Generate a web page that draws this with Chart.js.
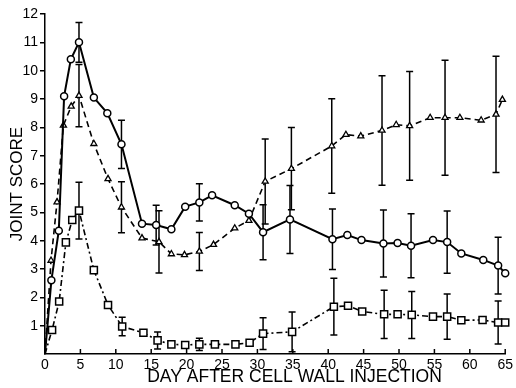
<!DOCTYPE html>
<html>
<head>
<meta charset="utf-8">
<script src="https://cdn.jsdelivr.net/npm/chart.js@4/dist/chart.umd.min.js"></script>
<style>
  html, body { margin: 0; padding: 0; background: #fff; }
  #wrap { width: 516px; height: 388px; }
</style>
</head>
<body>
<div id="wrap"><canvas id="joint"></canvas></div>
<script>
// circles, solid line
let circleDays = [0, 0.9, 1.95, 2.7, 3.65, 4.8, 6.9, 8.8, 10.8, 13.7, 15.7, 17.85, 19.8, 21.8, 23.6, 26.8, 28.8, 30.8, 34.6, 40.6, 42.7, 44.7, 47.8, 49.8, 51.7, 54.8, 56.8, 58.8, 61.9, 64, 65];
let circleScores = [0, 2.6, 4.35, 9.1, 10.4, 11.0, 9.05, 8.5, 7.4, 4.6, 4.55, 4.4, 5.2, 5.35, 5.6, 5.25, 4.95, 4.3, 4.75, 4.05, 4.2, 4.02, 3.9, 3.92, 3.82, 4.02, 3.95, 3.55, 3.32, 3.12, 2.85];
let circleErr = [0, 0, 0, 0, 0, 0.7, 0, 0, 0.85, 0, 0.7, 0, 0, 0.66, 0, 0, 0, 0.97, 1.2, 1.07, 0, 0, 1.18, 0, 1.13, 0, 1.1, 0, 0, 1.0, 0];

// triangles, dashed line
let triangleDays = [0, 0.85, 1.7, 2.6, 3.7, 4.8, 6.9, 8.9, 10.8, 13.7, 16.1, 17.85, 19.7, 21.8, 23.8, 26.8, 28.8, 31.1, 34.8, 40.5, 42.5, 44.6, 47.6, 49.6, 51.5, 54.4, 56.5, 58.6, 61.6, 63.7, 64.6];
let triangleScores = [0, 3.3, 5.36, 8.07, 8.74, 9.12, 7.42, 6.18, 5.18, 4.09, 3.96, 3.53, 3.5, 3.62, 3.86, 4.44, 4.71, 6.09, 6.54, 7.34, 7.74, 7.69, 7.89, 8.09, 8.05, 8.34, 8.34, 8.34, 8.25, 8.46, 8.98];
let triangleErr = [0, 0, 0, 0, 0, 1.1, 0, 0, 0.9, 0, 1.1, 0, 0, 0.67, 0, 0, 0, 1.5, 1.45, 1.67, 0, 0, 1.93, 0, 1.92, 0, 2.03, 0, 0, 2.05, 0];

// squares, dash-dot line
let squareDays = [0, 1.0, 2.0, 2.95, 3.85, 4.8, 6.9, 8.9, 10.9, 13.9, 15.9, 17.85, 19.8, 21.8, 24, 26.9, 28.9, 30.8, 34.9, 40.8, 42.8, 44.8, 47.9, 49.8, 51.8, 54.8, 56.8, 58.8, 61.8, 64, 65];
let squareScores = [0, 0.85, 1.85, 3.94, 4.73, 5.06, 2.96, 1.73, 0.97, 0.75, 0.48, 0.34, 0.32, 0.34, 0.34, 0.34, 0.4, 0.72, 0.78, 1.67, 1.7, 1.5, 1.4, 1.4, 1.38, 1.32, 1.32, 1.19, 1.2, 1.11, 1.11];
let squareErr = [0, 0, 0, 0, 0, 1.0, 0, 0, 0.33, 0, 0.3, 0, 0, 0.22, 0, 0, 0, 0.56, 0.7, 1.0, 0, 0, 0.85, 0, 0.83, 0, 0.8, 0, 0, 0.76, 0];

let xTicks = [0, 5, 10, 15, 20, 25, 30, 35, 40, 45, 50, 55, 60, 65];
let yTicks = [1, 2, 3, 4, 5, 6, 7, 8, 9, 10, 11, 12];

function points(days, scores) {
    return days.map((d, i) => ({ x: d, y: scores[i] }));
}

// vertical error bars, drawn under the markers through the chart's own scales
let errorBars = {
    id: 'errorBars',
    beforeDatasetsDraw(chart) {
        let ctx = chart.ctx;
        let yScale = chart.scales.y;
        ctx.save();
        ctx.strokeStyle = '#000';
        ctx.lineWidth = 1.5;
        chart.data.datasets.forEach((ds, di) => {
            let meta = chart.getDatasetMeta(di);
            ds.errors.forEach((e, i) => {
                if (!e) return;
                let pt = meta.data[i];
                let v = ds.data[i].y;
                let top = yScale.getPixelForValue(v + e);
                let bot = yScale.getPixelForValue(Math.max(v - e, 0));
                ctx.beginPath();
                ctx.moveTo(pt.x, top);
                ctx.lineTo(pt.x, bot);
                ctx.moveTo(pt.x - 3.5, top);
                ctx.lineTo(pt.x + 3.5, top);
                ctx.moveTo(pt.x - 3.5, bot);
                ctx.lineTo(pt.x + 3.5, bot);
                ctx.stroke();
            });
        });
        ctx.restore();
    }
};

// x ticks point up into the plot
let innerTicks = {
    id: 'innerTicks',
    afterDraw(chart) {
        let ctx = chart.ctx;
        let xScale = chart.scales.x;
        let base = chart.chartArea.bottom;
        ctx.save();
        ctx.strokeStyle = '#000';
        ctx.lineWidth = 1.5;
        xTicks.forEach(t => {
            let px = xScale.getPixelForValue(t);
            ctx.beginPath();
            ctx.moveTo(px, base);
            ctx.lineTo(px, base - 5);
            ctx.stroke();
        });
        ctx.restore();
    }
};

let firstHidden = c => c.dataIndex === 0 ? 0 : 3.5;

let jointCtx = document.getElementById('joint').getContext('2d');
let jointChart = new Chart(jointCtx, {
    type: 'line',
    data: {
        datasets: [{
            label: 'circles',
            data: points(circleDays, circleScores),
            errors: circleErr,
            clip: false,
            borderColor: '#000',
            borderWidth: 2,
            pointStyle: 'circle',
            pointRadius: firstHidden,
            pointBackgroundColor: '#fff',
            pointBorderColor: '#000',
            pointBorderWidth: 1.5
        }, {
            label: 'triangles',
            data: points(triangleDays, triangleScores),
            errors: triangleErr,
            clip: false,
            borderColor: '#000',
            borderWidth: 1.6,
            borderDash: [6, 4],
            pointStyle: 'triangle',
            pointRadius: firstHidden,
            pointBackgroundColor: '#fff',
            pointBorderColor: '#000',
            pointBorderWidth: 1.3
        }, {
            label: 'squares',
            data: points(squareDays, squareScores),
            errors: squareErr,
            clip: false,
            borderColor: '#000',
            borderWidth: 1.6,
            borderDash: [6, 3, 2, 3],
            pointStyle: 'rect',
            pointRadius: c => c.dataIndex === 0 ? 0 : 5,
            pointBackgroundColor: '#fff',
            pointBorderColor: '#000',
            pointBorderWidth: 1.5
        }]
    },
    options: {
        responsive: true,
        maintainAspectRatio: false,
        animation: false,
        layout: { padding: { top: 14, right: 8, left: 0, bottom: 0 } },
        plugins: {
            legend: { display: false },
            tooltip: { enabled: false }
        },
        scales: {
            x: {
                type: 'linear',
                min: 0,
                max: 65,
                afterBuildTicks: s => { s.ticks = xTicks.map(v => ({ value: v })); },
                afterFit: s => { s.height = 34; },
                grid: { display: true, drawOnChartArea: false, drawTicks: false },
                border: { color: '#000', width: 1.5 },
                ticks: {
                    color: '#000',
                    padding: 3,
                    maxRotation: 0,
                    font: { family: 'Liberation Sans', size: 14 }
                },
                title: {
                    display: true,
                    // leading spaces push the title right, as in the original figure
                    text: '        DAY AFTER CELL WALL INJECTION',
                    color: '#000',
                    padding: 0,
                    font: { family: 'Liberation Sans', size: 17.5 }
                }
            },
            y: {
                min: 0,
                max: 12,
                afterBuildTicks: s => { s.ticks = yTicks.map(v => ({ value: v })); },
                afterFit: s => { s.width = 45; },
                grid: { display: true, drawOnChartArea: false, drawTicks: true, tickLength: 5, color: '#000', lineWidth: 1.5 },
                border: { color: '#000', width: 1.5 },
                ticks: {
                    color: '#000',
                    padding: 2,
                    font: { family: 'Liberation Sans', size: 14 }
                },
                title: {
                    display: true,
                    text: 'JOINT SCORE',
                    color: '#000',
                    padding: { top: 7, bottom: 0 },
                    font: { family: 'Liberation Sans', size: 17 }
                }
            }
        }
    },
    plugins: [errorBars, innerTicks]
});
</script>
</body>
</html>
